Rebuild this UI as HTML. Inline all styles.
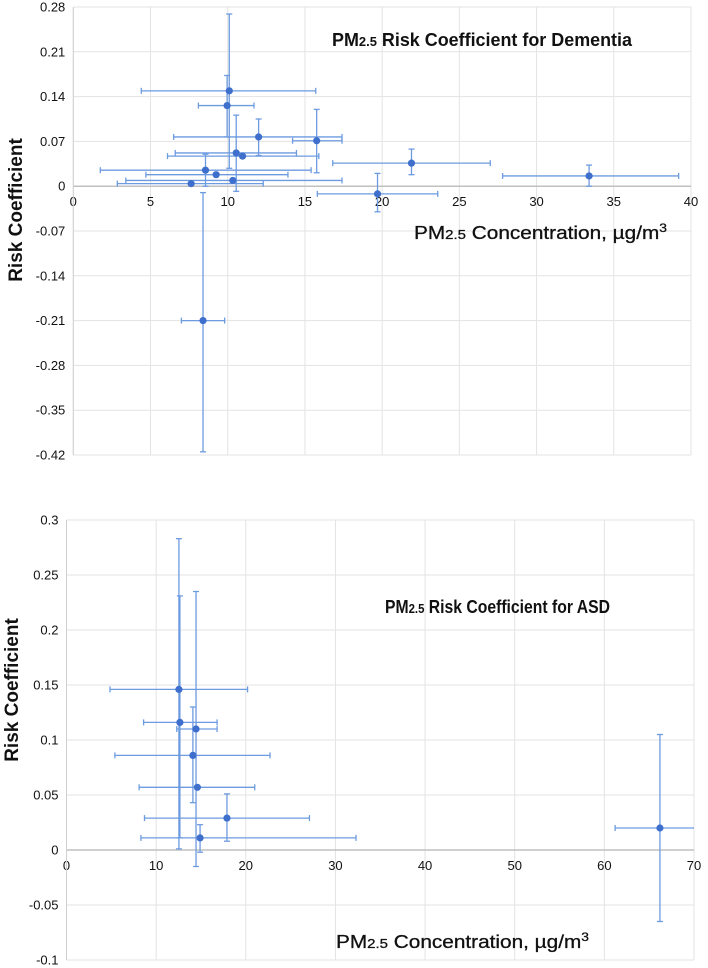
<!DOCTYPE html>
<html><head><meta charset="utf-8">
<style>
html,body{margin:0;padding:0;background:#fff;}
svg{display:block;font-family:"Liberation Sans",sans-serif;}
</style></head>
<body>
<svg id="svg" width="708" height="968" viewBox="0 0 708 968" xmlns="http://www.w3.org/2000/svg">
<g id="top"></g>
<g id="bot"></g>
</svg>
<script>
// ---- Dementia chart data ----
const demX = [10.1, 9.96, 12.0, 15.76, 10.55, 10.96, 8.56, 9.25, 10.33, 7.63, 8.4, 21.9, 33.4, 19.7];
const demY = [0.149, 0.126, 0.077, 0.071, 0.052, 0.047, 0.025, 0.018, 0.009, 0.004, -0.21, 0.036, 0.016, -0.012];
const demXLo = [4.4, 8.1, 6.5, 14.2, 6.6, 6.1, 1.75, 4.7, 3.4, 2.85, 7.0, 16.8, 27.8, 15.8];
const demXHi = [15.7, 11.7, 17.4, 17.4, 14.45, 15.9, 15.4, 13.9, 17.4, 12.3, 9.8, 27.0, 39.2, 23.6];
const demYLo = [0.028, 0.077, 0.048, 0.021, -0.008, 0.047, 0.0, 0.018, 0.009, 0.004, -0.415, 0.018, 0.0, -0.04];
const demYHi = [0.269, 0.173, 0.105, 0.120, 0.111, 0.047, 0.050, 0.018, 0.009, 0.004, -0.01, 0.058, 0.033, 0.02];
const demXTicks = [0,5,10,15,20,25,30,35,40];
const demYTicks = [0.28,0.21,0.14,0.07,0,-0.07,-0.14,-0.21,-0.28,-0.35,-0.42];
// ---- ASD chart data ----
const asdX = [12.54, 12.65, 14.45, 14.1, 14.6, 17.9, 14.9, 66.2];
const asdY = [0.146, 0.116, 0.110, 0.086, 0.057, 0.029, 0.011, 0.020];
const asdXLo = [4.85, 8.6, 12.3, 5.4, 8.1, 8.7, 8.3, 61.2];
const asdXHi = [20.2, 16.8, 16.8, 22.7, 21.0, 27.1, 32.3, 70.5];
const asdYLo = [0.001, 0.011, -0.015, 0.043, 0.057, 0.008, -0.002, -0.065];
const asdYHi = [0.283, 0.231, 0.235, 0.130, 0.057, 0.051, 0.023, 0.105];
const asdXTicks = [0,10,20,30,40,50,60,70];
const asdYTicks = [0.3,0.25,0.2,0.15,0.1,0.05,0,-0.05,-0.1];

const NS="http://www.w3.org/2000/svg";
function mk(parent,tag,attrs,text){const e=document.createElementNS(NS,tag);for(const k in attrs)e.setAttribute(k,attrs[k]);if(text!==undefined)e.textContent=text;parent.appendChild(e);return e;}

function chart(g,cfg){
  const sx=v=>cfg.x0+(v-cfg.xmin)/(cfg.xmax-cfg.xmin)*(cfg.x1-cfg.x0);
  const sy=v=>cfg.y0+(cfg.ymax-v)/(cfg.ymax-cfg.ymin)*(cfg.y1-cfg.y0);
  cfg.xt.forEach(t=>{
    const l=mk(g,'line',{x1:sx(t),x2:sx(t),y1:cfg.y0,y2:cfg.y1,stroke:'#e3e3e3','stroke-width':1});
    
    
    const tx=mk(g,'text',{x:sx(t),y:sy(0)+20,'text-anchor':'middle','font-size':13,fill:'#111'},String(t));
    
    
  });
  cfg.yt.forEach(t=>{
    const l=mk(g,'line',{x1:cfg.x0,x2:cfg.x1,y1:sy(t),y2:sy(t),stroke:t===0?'#c0c0c0':'#e3e3e3','stroke-width':t===0?1.5:1});
    
    
    const tx=mk(g,'text',{x:cfg.x0-8,y:sy(t)+4.5,'text-anchor':'end','font-size':13,fill:'#111'},String(t));
    
    
  });
  const ya=mk(g,'line',{x1:cfg.x0,x2:cfg.x0,y1:cfg.y0,y2:cfg.y1,stroke:'#d0d0d0','stroke-width':1});
  
  
  const col='#6d9be0', c=3;
  for(let i=0;i<cfg.X.length;i++){
    const e=mk(g,'g',{stroke:col,'stroke-width':1.3,fill:'none'});
    
    
    const px=sx(cfg.X[i]),py=sy(cfg.Y[i]);
    const xl=sx(cfg.XL[i]),xh=Math.min(sx(cfg.XH[i]),cfg.x1),yl=sy(cfg.YL[i]),yh=sy(cfg.YH[i]);
    mk(e,'line',{x1:xl,x2:xh,y1:py,y2:py});
    mk(e,'line',{x1:xl,x2:xl,y1:py-c,y2:py+c});
    if(sx(cfg.XH[i])<=cfg.x1) mk(e,'line',{x1:xh,x2:xh,y1:py-c,y2:py+c});
    if(Math.abs(yl-yh)>1){
      mk(e,'line',{x1:px,x2:px,y1:yh,y2:yl});
      mk(e,'line',{x1:px-c,x2:px+c,y1:yh,y2:yh});
      mk(e,'line',{x1:px-c,x2:px+c,y1:yl,y2:yl});
    }
  }
  for(let i=0;i<cfg.X.length;i++){
    const p=mk(g,'circle',{cx:sx(cfg.X[i]),cy:sy(cfg.Y[i]),r:3.6,fill:'#3f6fcc'});
    
    
  }
  const t=mk(g,'text',{x:cfg.tx,y:cfg.ty,'font-size':18,'font-weight':'bold',fill:'#111',textLength:cfg.tl,lengthAdjust:'spacingAndGlyphs'});
  
  
  mk(t,'tspan',{},'PM');mk(t,'tspan',{'font-size':13},'2.5');mk(t,'tspan',{},' Risk Coefficient for '+cfg.disease);
  const xl=mk(g,'text',{x:cfg.lx,y:cfg.ly,'font-size':18,fill:'#111',stroke:'#111','stroke-width':0.3,textLength:cfg.ll,lengthAdjust:'spacingAndGlyphs'});
  
  
  mk(xl,'tspan',{},'PM');mk(xl,'tspan',{'font-size':13},'2.5');mk(xl,'tspan',{},' Concentration, µg/m');mk(xl,'tspan',{'font-size':12,dy:-7},'3');
  const yl=mk(g,'text',{x:0,y:0,'font-size':19,'font-weight':'bold',fill:'#111','text-anchor':'middle',transform:`translate(${cfg.yx},${cfg.yy}) rotate(-90)`},'Risk Coefficient');
  
  
}

chart(document.getElementById('top'),{x0:73.3,x1:691,y0:7,y1:455,xmin:0,xmax:40,ymin:-0.42,ymax:0.28,
  xt:demXTicks,yt:demYTicks,X:demX,Y:demY,XL:demXLo,XH:demXHi,YL:demYLo,YH:demYHi,
  disease:'Dementia',tx:332,ty:46,tl:300,lx:414,ly:239,ll:253,yx:22,yy:210});
chart(document.getElementById('bot'),{x0:66.5,x1:694,y0:520,y1:960,xmin:0,xmax:70,ymin:-0.1,ymax:0.3,
  xt:asdXTicks,yt:asdYTicks,X:asdX,Y:asdY,XL:asdXLo,XH:asdXHi,YL:asdYLo,YH:asdYHi,
  disease:'ASD',tx:385,ty:613,tl:225,lx:336,ly:948,ll:253,yx:18,yy:690});
</script>
</body></html>
